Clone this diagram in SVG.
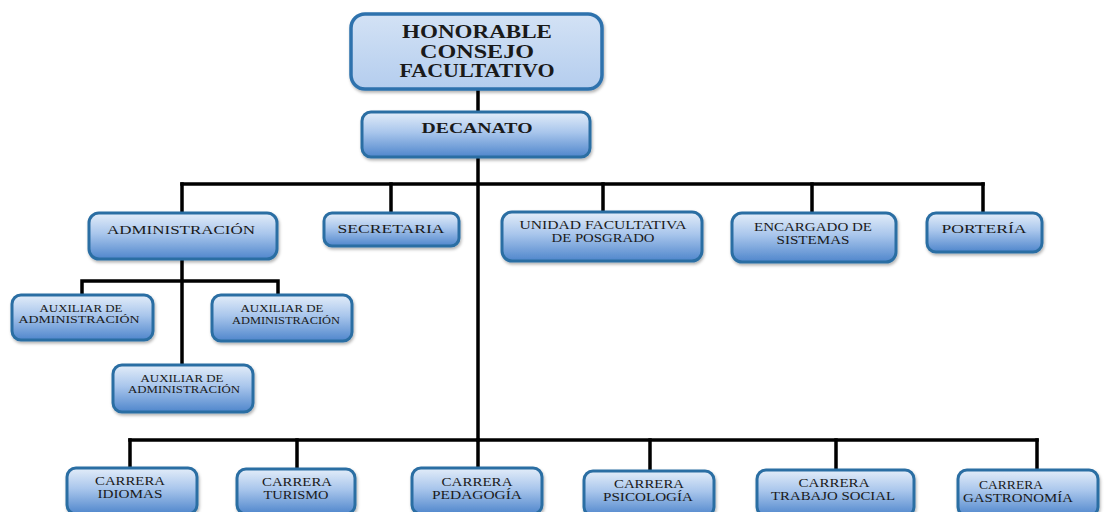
<svg xmlns="http://www.w3.org/2000/svg" width="1104" height="512" viewBox="0 0 1104 512">
<defs>
<linearGradient id="g" x1="0" y1="0" x2="0" y2="1">
<stop offset="0" stop-color="#e3edf9"/>
<stop offset="0.45" stop-color="#a9c6ec"/>
<stop offset="1" stop-color="#4f86cc"/>
</linearGradient>
<linearGradient id="gTop" x1="0" y1="0" x2="0" y2="1">
<stop offset="0" stop-color="#d3e2f5"/>
<stop offset="1" stop-color="#b4cdee"/>
</linearGradient>
<filter id="sh" x="-10%" y="-10%" width="120%" height="130%">
<feDropShadow dx="1" dy="2" stdDeviation="1.5" flood-color="#000" flood-opacity="0.3"/>
</filter>
</defs>
<style>
.box{fill:url(#g);stroke:#2b6ea3;stroke-width:3;filter:url(#sh)}
.top{fill:url(#gTop);stroke:#2f72ad;stroke-width:3.5;filter:url(#sh)}
text{font-family:'Liberation Serif','DejaVu Serif','Times New Roman',serif;fill:#1a1a1a;text-anchor:middle}
.b{font-weight:bold}
.l{font-size:13px}
.m{font-size:11.5px}
.s{font-size:10.5px}
.c{stroke:#000;stroke-width:3.5;fill:none;stroke-linecap:square}
</style>
<g id="connectors">
<path class="c" d="M478 90V112"/>
<path class="c" d="M478 157V440"/>
<path class="c" d="M182 184H983"/>
<path class="c" d="M182 184V213M391 184V213M603 184V212M812 184V213M983 184V213"/>
<path class="c" d="M182 259V365"/>
<path class="c" d="M82 281H278M82 281V295M278 281V295"/>
<path class="c" d="M130 440H1037"/>
<path class="c" d="M130 440V468M297 440V469M478 440V468M650 440V471M836 440V470M1037 440V470"/>
</g>
<g id="honorable">
<rect class="top" x="351" y="14" width="251" height="75" rx="14"/>
<text class="b" x="477" y="38" font-size="18" textLength="150" lengthAdjust="spacingAndGlyphs">HONORABLE</text>
<text class="b" x="477" y="57.5" font-size="18" textLength="114" lengthAdjust="spacingAndGlyphs">CONSEJO</text>
<text class="b" x="477" y="77" font-size="18" textLength="155" lengthAdjust="spacingAndGlyphs">FACULTATIVO</text>
</g>
<g id="decanato">
<rect class="box" x="362" y="112" width="228" height="45" rx="9"/>
<text class="b" x="477" y="133" font-size="15" textLength="111" lengthAdjust="spacingAndGlyphs">DECANATO</text>
</g>
<g id="administracion">
<rect class="box" x="89" y="213" width="188" height="46" rx="10"/>
<text class="l" x="181" y="234" textLength="148" lengthAdjust="spacingAndGlyphs">ADMINISTRACIÓN</text>
</g>
<g id="secretaria">
<rect class="box" x="324" y="213" width="135" height="33" rx="8"/>
<text class="l" x="391" y="233" textLength="107" lengthAdjust="spacingAndGlyphs">SECRETARIA</text>
</g>
<g id="unidad">
<rect class="box" x="502" y="212" width="200" height="49" rx="10"/>
<text class="m" x="603" y="229" textLength="167" lengthAdjust="spacingAndGlyphs">UNIDAD FACULTATIVA</text>
<text class="m" x="603" y="242" textLength="103" lengthAdjust="spacingAndGlyphs">DE POSGRADO</text>
</g>
<g id="encargado">
<rect class="box" x="732" y="213" width="164" height="49" rx="10"/>
<text class="m" x="813" y="231" textLength="118" lengthAdjust="spacingAndGlyphs">ENCARGADO DE</text>
<text class="m" x="813" y="244" textLength="73" lengthAdjust="spacingAndGlyphs">SISTEMAS</text>
</g>
<g id="porteria">
<rect class="box" x="927" y="213" width="115" height="39" rx="9"/>
<text class="l" x="984" y="233" textLength="85" lengthAdjust="spacingAndGlyphs">PORTERÍA</text>
</g>
<g id="aux1">
<rect class="box" x="12" y="295" width="141" height="45" rx="9"/>
<text class="s" x="81" y="312" textLength="83" lengthAdjust="spacingAndGlyphs">AUXILIAR DE</text>
<text class="s" x="79" y="323" textLength="121" lengthAdjust="spacingAndGlyphs">ADMINISTRACIÓN</text>
</g>
<g id="aux2">
<rect class="box" x="212" y="295" width="140" height="46" rx="9"/>
<text class="s" x="282" y="312" textLength="83" lengthAdjust="spacingAndGlyphs">AUXILIAR DE</text>
<text class="s" x="286" y="324" textLength="108" lengthAdjust="spacingAndGlyphs">ADMINISTRACIÓN</text>
</g>
<g id="aux3">
<rect class="box" x="113" y="365" width="140" height="47" rx="9"/>
<text class="s" x="182" y="382" textLength="83" lengthAdjust="spacingAndGlyphs">AUXILIAR DE</text>
<text class="s" x="184" y="393" textLength="112" lengthAdjust="spacingAndGlyphs">ADMINISTRACIÓN</text>
</g>
<g id="idiomas">
<rect class="box" x="67" y="468" width="130" height="46" rx="9"/>
<text class="m" x="130" y="485" textLength="70" lengthAdjust="spacingAndGlyphs">CARRERA</text>
<text class="m" x="130" y="498" textLength="65" lengthAdjust="spacingAndGlyphs">IDIOMAS</text>
</g>
<g id="turismo">
<rect class="box" x="237" y="469" width="118" height="45" rx="9"/>
<text class="m" x="297" y="486" textLength="70" lengthAdjust="spacingAndGlyphs">CARRERA</text>
<text class="m" x="296" y="499" textLength="65" lengthAdjust="spacingAndGlyphs">TURISMO</text>
</g>
<g id="pedagogia">
<rect class="box" x="412" y="468" width="130" height="46" rx="9"/>
<text class="m" x="477" y="486" textLength="71" lengthAdjust="spacingAndGlyphs">CARRERA</text>
<text class="m" x="477" y="499" textLength="90" lengthAdjust="spacingAndGlyphs">PEDAGOGÍA</text>
</g>
<g id="psicologia">
<rect class="box" x="584" y="471" width="130" height="45" rx="9"/>
<text class="m" x="649" y="488" textLength="70" lengthAdjust="spacingAndGlyphs">CARRERA</text>
<text class="m" x="648" y="501" textLength="90" lengthAdjust="spacingAndGlyphs">PSICOLOGÍA</text>
</g>
<g id="trabajo">
<rect class="box" x="757" y="470" width="157" height="46" rx="9"/>
<text class="m" x="834" y="487" textLength="71" lengthAdjust="spacingAndGlyphs">CARRERA</text>
<text class="m" x="833" y="500" textLength="124" lengthAdjust="spacingAndGlyphs">TRABAJO SOCIAL</text>
</g>
<g id="gastronomia">
<rect class="box" x="958" y="470" width="140" height="46" rx="9"/>
<text class="m" x="1011" y="489" textLength="64" lengthAdjust="spacingAndGlyphs">CARRERA</text>
<text class="m" x="1018" y="502" textLength="110" lengthAdjust="spacingAndGlyphs">GASTRONOMÍA</text>
</g>
</svg>
